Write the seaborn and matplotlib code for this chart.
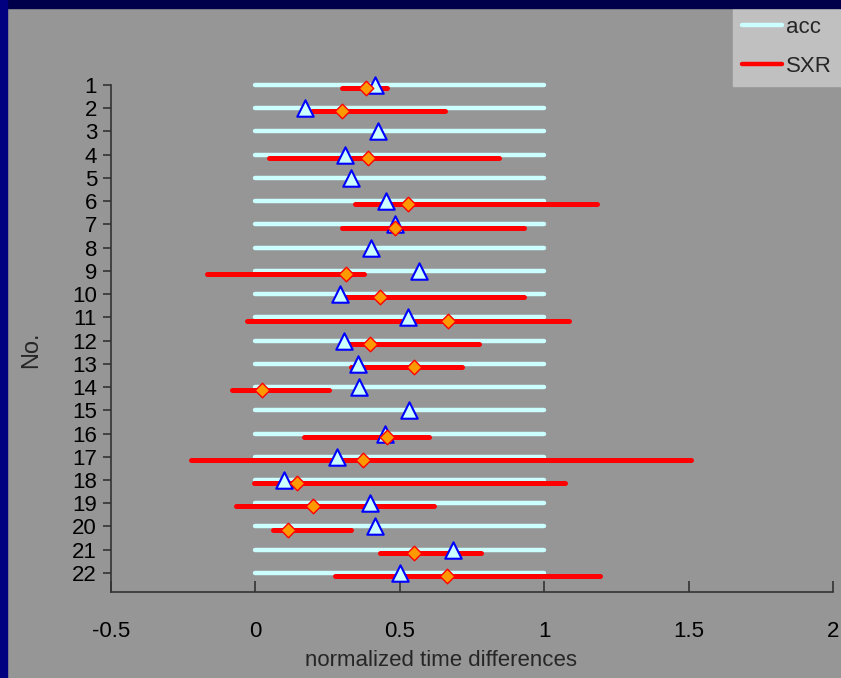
import numpy as np
import pandas as pd
import matplotlib
matplotlib.use("Agg")
import matplotlib.pyplot as plt
from matplotlib.lines import Line2D
from matplotlib.patches import Rectangle
import seaborn as sns

# subject numbers
subjects = list(range(1, 23))

# acc: range is always 0..1, triangle = acc position
acc_lo = [0.0] * 22
acc_hi = [1.0] * 22
acc_mark = [0.414, 0.172, 0.423, 0.309, 0.332, 0.451, 0.483, 0.401, 0.566, 0.292, 0.527,
            0.306, 0.354, 0.359, 0.532, 0.450, 0.283, 0.100, 0.397, 0.415, 0.685, 0.501]

# SXR: range and diamond position (nan = no SXR data)
nan = np.nan
sxr_lo = [0.299, 0.197, nan, 0.048, nan, 0.346, 0.299, nan, -0.168, 0.300, -0.028,
          0.316, 0.330, -0.081, nan, 0.169, -0.223, -0.005, -0.067, 0.060, 0.430, 0.277]
sxr_hi = [0.457, 0.656, nan, 0.845, nan, 1.182, 0.931, nan, 0.377, 0.931, 1.085,
          0.775, 0.714, 0.256, nan, 0.602, 1.507, 1.071, 0.617, 0.331, 0.780, 1.193]
sxr_mark = [0.384, 0.300, nan, 0.389, nan, 0.527, 0.483, nan, 0.314, 0.431, 0.667,
            0.397, 0.549, 0.022, nan, 0.454, 0.374, 0.143, 0.201, 0.113, 0.549, 0.662]

xticks = [-0.5, 0, 0.5, 1, 1.5, 2]
xtick_labels = ["-0.5", "0", "0.5", "1", "1.5", "2"]

BG = "#969696"
ACC_COLOR = "#CCFFFF"
SXR_COLOR = "#FF0000"
SXR_SHIFT = 0.14  # red bars sit a little below the acc bars

df = pd.DataFrame({
    "No": subjects,
    "acc_lo": acc_lo, "acc_hi": acc_hi, "acc": acc_mark,
    "sxr_lo": sxr_lo, "sxr_hi": sxr_hi, "sxr": sxr_mark,
})
df["No_sxr"] = df["No"] + SXR_SHIFT

sns.set_theme(style="white")
plt.rcParams["font.family"] = ["Liberation Sans Narrow", "Liberation Sans", "DejaVu Sans"]

fig = plt.figure(figsize=(8.41, 6.78), dpi=100, facecolor=BG)
ax = fig.add_axes([111 / 841, 86 / 678, 722 / 841, 507 / 678])
ax.set_facecolor(BG)

# frame strips on top and left edge
fig.add_artist(Rectangle((0, 1 - 8 / 678), 1, 8 / 678, transform=fig.transFigure,
                         color="#00004A", zorder=10))
fig.add_artist(Rectangle((0, 0), 7 / 841, 1, transform=fig.transFigure,
                         color="#000080", zorder=10))

ax.hlines(df["No"], df["acc_lo"], df["acc_hi"], color=ACC_COLOR, lw=3.2,
          capstyle="round", zorder=2, clip_on=False)
sxr = df.dropna()
ax.hlines(sxr["No_sxr"], sxr["sxr_lo"], sxr["sxr_hi"], color=SXR_COLOR, lw=3.6,
          capstyle="round", zorder=3, clip_on=False)

sns.scatterplot(data=df, x="acc", y="No", marker="^", s=140, color=ACC_COLOR,
                edgecolor="#0000FF", linewidth=1.5, zorder=4, clip_on=False, ax=ax)
sns.scatterplot(data=sxr, x="sxr", y="No_sxr", marker="D", s=55, color="#FF9900",
                edgecolor="#FF0000", linewidth=1.0, zorder=5, clip_on=False, ax=ax)

ax.set_xlim(-0.5, 2)
ax.set_ylim(22.82, 1)
ax.set_xticks(xticks)
ax.set_xticklabels(xtick_labels)
ax.set_yticks(subjects)
ax.set_yticklabels([str(s) for s in subjects])
ax.set_xlabel("")
ax.set_ylabel("")

for side in ["top", "right"]:
    ax.spines[side].set_visible(False)
for side in ["left", "bottom"]:
    ax.spines[side].set_color("#333333")
    ax.spines[side].set_linewidth(1.2)

ax.tick_params(axis="x", direction="in", length=8, width=1.2, color="#333333",
               pad=21, labelsize=16, labelcolor="black", bottom=True)
ax.tick_params(axis="y", direction="out", length=6, width=1.2, color="#333333",
               pad=4, labelsize=16, labelcolor="black", left=True)

fig.text(441 / 841, 1 - 660 / 678, "normalized time differences", ha="center",
         va="center", fontsize=16)
fig.text(31 / 841, 1 - 350 / 678, "No.", ha="center", va="center", fontsize=17,
         rotation=90)

handles = [Line2D([], [], color=ACC_COLOR, lw=3.2, solid_capstyle="round"),
           Line2D([], [], color=SXR_COLOR, lw=3.2, solid_capstyle="round")]
leg = fig.legend(handles, ["acc", "SXR"], loc="upper right",
                 bbox_to_anchor=(1, 1 - 8 / 678), bbox_transform=fig.transFigure,
                 frameon=True, fancybox=False, fontsize=16, handlelength=1.8,
                 handletextpad=0.2, borderpad=0.4, labelspacing=0.8,
                 borderaxespad=0)
leg.get_frame().set_facecolor("#C0C0C0")
leg.get_frame().set_edgecolor("#C0C0C0")
leg.get_frame().set_alpha(1)

fig.savefig("out.png", dpi=100, facecolor=BG)
